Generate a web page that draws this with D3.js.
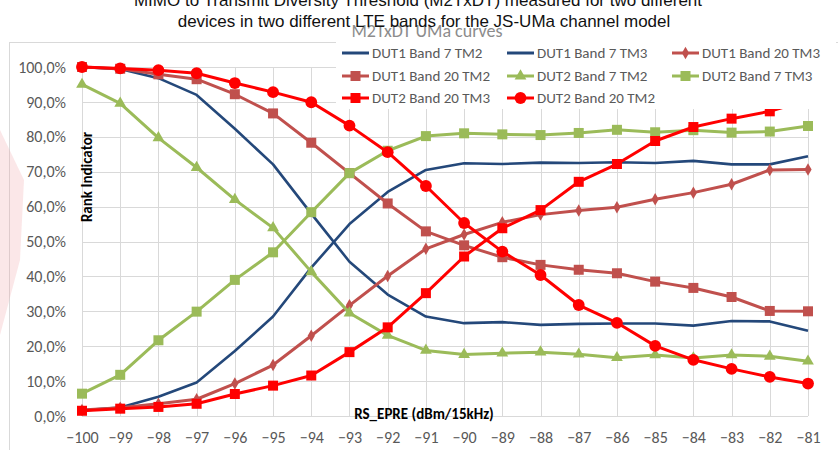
<!DOCTYPE html>
<html>
<head>
<meta charset="utf-8">
<script src="https://cdn.jsdelivr.net/npm/d3@7"></script>
<style>
  body { margin: 0; background: #fff; }
  text { font-family: "Carlito", "Lato", "Liberation Sans", sans-serif; }
</style>
</head>
<body>
<div id="chart"></div>
<script>
const width = 838, height = 450;

// data
const rsEpre = [-100, -99, -98, -97, -96, -95, -94, -93, -92, -91, -90, -89, -88, -87, -86, -85, -84, -83, -82, -81];
const dut1Band7TM2 = [100, 99.4, 96.8, 92.0, 82.3, 72.1, 58.0, 44.2, 34.8, 28.5, 26.6, 26.9, 26.1, 26.4, 26.5, 26.5, 25.9, 27.2, 27.1, 24.4];
const dut1Band7TM3 = [1.6, 2.4, 5.5, 9.6, 18.6, 28.5, 42.5, 55.0, 64.2, 70.5, 72.4, 72.2, 72.6, 72.5, 72.7, 72.5, 73.1, 72.1, 72.1, 74.4];
const dut1Band20TM3 = [1.7, 2.4, 3.5, 4.8, 9.3, 14.6, 23.0, 31.7, 40.1, 47.9, 52.0, 55.5, 57.7, 58.9, 59.8, 62.1, 64.0, 66.4, 70.5, 70.6];
const dut1Band20TM2 = [100, 99.5, 97.9, 96.5, 92.2, 86.7, 78.3, 69.6, 60.9, 52.9, 48.9, 45.5, 43.3, 41.9, 40.9, 38.5, 36.7, 34.1, 30.1, 30.0];
const dut2Band7TM2 = [95.0, 89.6, 79.7, 71.2, 62.0, 53.9, 41.3, 29.5, 23.1, 18.8, 17.6, 18.0, 18.3, 17.7, 16.7, 17.5, 16.6, 17.5, 17.1, 15.7];
const dut2Band7TM3 = [6.4, 11.8, 21.7, 29.9, 39.0, 46.9, 58.4, 69.6, 76.0, 80.2, 81.0, 80.7, 80.5, 81.1, 82.0, 81.3, 81.9, 81.2, 81.5, 83.1];
const dut2Band20TM3 = [1.5, 2.1, 2.6, 3.5, 6.3, 8.7, 11.6, 18.3, 25.4, 35.2, 45.7, 53.8, 59.0, 67.1, 72.2, 78.8, 82.8, 85.2, 87.3, 90.5];
const dut2Band20TM2 = [100, 99.6, 99.1, 98.2, 95.4, 92.8, 89.9, 83.2, 75.6, 65.9, 55.3, 47.1, 40.4, 31.8, 26.7, 20.1, 16.1, 13.5, 11.2, 9.3];
const yTicks = [0, 10, 20, 30, 40, 50, 60, 70, 80, 90, 100];

const seriesNames = ["DUT1 Band 7 TM2", "DUT1 Band 7 TM3", "DUT1 Band 20 TM3", "DUT1 Band 20 TM2",
                     "DUT2 Band 7 TM2", "DUT2 Band 7 TM3", "DUT2 Band 20 TM3", "DUT2 Band 20 TM2"];
const seriesValues = [dut1Band7TM2, dut1Band7TM3, dut1Band20TM3, dut1Band20TM2,
                      dut2Band7TM2, dut2Band7TM3, dut2Band20TM3, dut2Band20TM2];
const seriesColors = ["#24487A", "#24487A", "#C0504D", "#C0504D", "#9BBB59", "#9BBB59", "#FF0000", "#FF0000"];
const seriesMarkers = ["none", "none", "diamond", "square", "triangle", "square", "square", "circle"];

const series = seriesNames.map((name, i) => ({
    name: name,
    color: seriesColors[i],
    marker: seriesMarkers[i],
    values: rsEpre.map((x, j) => ({x: x, y: seriesValues[i][j]}))
}));

const plot = {left: 82, right: 808, top: 67, bottom: 416};

const svg = d3.select("#chart").append("svg")
    .attr("width", width)
    .attr("height", height);

// outer chart frame
svg.append("rect")
    .attr("x", 9.5).attr("y", 42.5)
    .attr("width", width - 8).attr("height", height)
    .attr("fill", "none")
    .attr("stroke", "#D9D9D9");

// faint red watermark on the left
svg.append("path")
    .attr("d", "M0,130 L24,180 L20,260 L0,335 Z")
    .attr("fill", "#F2A8AC")
    .attr("opacity", 0.28);

let x = d3.scaleLinear()
    .domain([-100, -81])
    .range([plot.left, plot.right]);

let y = d3.scaleLinear()
    .domain([0, 100])
    .range([plot.bottom, plot.top]);

// grid
svg.append("g")
    .selectAll("line").data(yTicks).enter()
    .append("line")
    .attr("x1", plot.left).attr("x2", plot.right)
    .attr("y1", d => Math.round(y(d)) + 0.5).attr("y2", d => Math.round(y(d)) + 0.5)
    .attr("stroke", "#D9D9D9");

svg.append("g")
    .selectAll("line").data(rsEpre).enter()
    .append("line")
    .attr("x1", d => Math.round(x(d)) + 0.5).attr("x2", d => Math.round(x(d)) + 0.5)
    .attr("y1", plot.top).attr("y2", plot.bottom)
    .attr("stroke", "#D9D9D9");

// axes
let yAxis = svg.append("g")
    .attr("transform", `translate(${plot.left}, 0)`)
    .call(d3.axisLeft(y).tickValues(yTicks).tickSize(0).tickPadding(16)
        .tickFormat(d => d3.format(".1f")(d).replace(".", ",") + "%"));
yAxis.select(".domain").remove();
yAxis.selectAll("text").style("font-size", "16px").attr("fill", "#595959");

let xAxis = svg.append("g")
    .attr("transform", `translate(0, ${plot.bottom})`)
    .call(d3.axisBottom(x).tickValues(rsEpre).tickSize(0).tickPadding(16)
        .tickFormat(d3.format("d")));
xAxis.select(".domain").remove();
xAxis.selectAll("text").style("font-size", "16px").attr("fill", "#595959");

// lines
let line = d3.line()
    .x(d => x(d.x))
    .y(d => y(d.y));

let symbolType = {square: d3.symbolSquare, triangle: d3.symbolTriangle, diamond: d3.symbolDiamond, circle: d3.symbolCircle};
let symbolSize = {square: 100, triangle: 60, diamond: 45, circle: 110};

function drawMarker(g, s, px, py) {
    if (s.marker === "none") return;
    g.append("path")
        .attr("d", d3.symbol().type(symbolType[s.marker]).size(symbolSize[s.marker])())
        .attr("transform", `translate(${px}, ${py})`)
        .attr("fill", s.color);
}

series.forEach(s => {
    let g = svg.append("g");
    g.append("path")
        .datum(s.values)
        .attr("fill", "none")
        .attr("stroke", s.color)
        .attr("stroke-width", s.marker === "none" ? 2.6 : 3)
        .attr("stroke-linejoin", "round")
        .attr("d", line);
    s.values.forEach(v => drawMarker(g, s, x(v.x), y(v.y)));
});

// axis titles
svg.append("text")
    .attr("transform", `translate(${plot.left + 10}, 177) rotate(-90)`)
    .style("text-anchor", "middle")
    .style("font-size", "15px")
    .style("font-weight", "bold")
    .text("Rank Indicator");

svg.append("text")
    .attr("x", 424).attr("y", 419)
    .style("text-anchor", "middle")
    .style("font-size", "15px")
    .style("font-weight", "bold")
    .text("RS_EPRE (dBm/15kHz)");

// legend with white background
svg.append("rect")
    .attr("x", 336).attr("y", 42)
    .attr("width", 500).attr("height", 67)
    .attr("fill", "#fff");

let legendX = [342, 507, 672];
let legendY = [53, 76, 98];
series.forEach((s, i) => {
    let lx = legendX[i % 3], ly = legendY[Math.floor(i / 3)];
    let g = svg.append("g");
    g.append("line")
        .attr("x1", lx).attr("x2", lx + 27)
        .attr("y1", ly).attr("y2", ly)
        .attr("stroke", s.color).attr("stroke-width", 3);
    drawMarker(g, s, lx + 13.5, ly);
    g.append("text")
        .attr("x", lx + 30).attr("y", ly + 5)
        .style("font-size", "15px")
        .attr("fill", "#595959")
        .text(s.name);
});

// titles
svg.append("text")
    .attr("x", 427).attr("y", 37)
    .style("text-anchor", "middle")
    .style("font-size", "18px")
    .attr("fill", "#8C8C8C")
    .text("M2TxDT UMa curves");

svg.append("text")
    .attr("x", 418).attr("y", 6)
    .style("text-anchor", "middle")
    .style("font-size", "17px")
    .style("font-family", "'Liberation Sans', sans-serif")
    .attr("fill", "#111")
    .text("MIMO to Transmit Diversity Threshold (M2TxDT) measured for two different");

svg.append("text")
    .attr("x", 424).attr("y", 27)
    .style("text-anchor", "middle")
    .style("font-size", "17px")
    .style("font-family", "'Liberation Sans', sans-serif")
    .attr("fill", "#111")
    .text("devices in two different LTE bands for the JS-UMa channel model");
</script>
</body>
</html>
